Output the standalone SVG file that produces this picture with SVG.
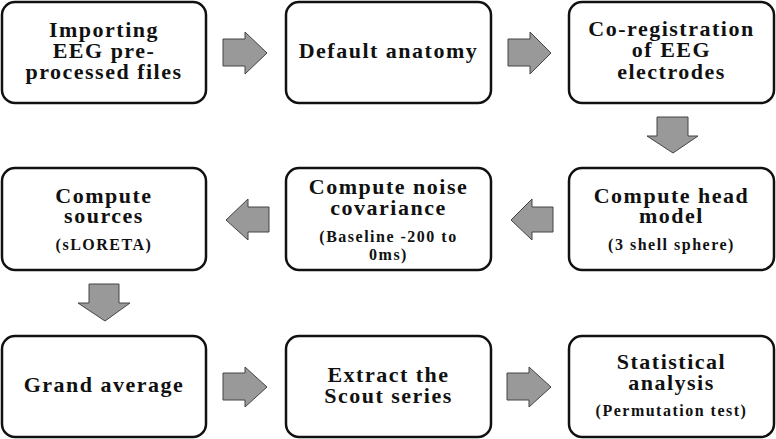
<svg xmlns="http://www.w3.org/2000/svg" width="776" height="439" viewBox="0 0 776 439">
<style>
.box{fill:#fff;stroke:#111;stroke-width:2.5}
.t{font-weight:bold;font-size:22px;letter-spacing:1.5px;fill:#111;text-anchor:middle}
.s{font-size:16px;letter-spacing:1.5px}
.arr{fill:#999;stroke:#444;stroke-width:1}
</style>
<rect width="776" height="439" fill="#fff"/>
<g id="connectors">
<polygon class="arr" points="223,39 245,39 245,32 267,53 245,74 245,66 223,66"/>
<polygon class="arr" points="508,39 530,39 530,32 551,53 530,74 530,66 508,66"/>
<polygon class="arr" points="657,117 688,117 688,136 698,136 673,153 647,136 657,136"/>
<polygon class="arr" points="553,207 532,207 532,199 511,220 532,240 532,232 553,232"/>
<polygon class="arr" points="269,207 248,207 248,199 226,220 248,240 248,232 269,232"/>
<polygon class="arr" points="89,284 119,284 119,303 130,303 105,321 78,303 89,303"/>
<polygon class="arr" points="223,373 245,373 245,367 267,387 245,407 245,400 223,400"/>
<polygon class="arr" points="507,373 529,373 529,367 551,387 529,407 529,400 507,400"/>
</g>
<g font-family="Liberation Serif, serif">
<g id="n1"><rect class="box" x="2" y="2" width="204" height="101" rx="13"/>
<text class="t" x="104" y="37">Importing</text><text class="t" x="104" y="58">EEG pre-</text><text class="t" x="104" y="79">processed files</text></g>
<g id="n2"><rect class="box" x="286" y="2" width="205" height="101" rx="13"/>
<text class="t" x="388.5" y="58">Default anatomy</text></g>
<g id="n3"><rect class="box" x="569" y="2" width="205" height="101" rx="13"/>
<text class="t" x="671.5" y="36">Co-registration</text><text class="t" x="671.5" y="57">of EEG</text><text class="t" x="671.5" y="79">electrodes</text></g>
<g id="n4"><rect class="box" x="2" y="168" width="204" height="102" rx="13"/>
<text class="t" x="104" y="203">Compute</text><text class="t" x="104" y="223">sources</text><text class="t s" x="104" y="250">(sLORETA)</text></g>
<g id="n5"><rect class="box" x="286" y="168" width="205" height="102" rx="13"/>
<text class="t" x="388.5" y="194">Compute noise</text><text class="t" x="388.5" y="215">covariance</text><text class="t s" x="388.5" y="242">(Baseline -200 to</text><text class="t s" x="388.5" y="260">0ms)</text></g>
<g id="n6"><rect class="box" x="569" y="168" width="205" height="102" rx="13"/>
<text class="t" x="671.5" y="203">Compute head</text><text class="t" x="671.5" y="223">model</text><text class="t s" x="671.5" y="250">(3 shell sphere)</text></g>
<g id="n7"><rect class="box" x="2" y="336" width="204" height="101" rx="13"/>
<text class="t" x="104" y="392">Grand average</text></g>
<g id="n8"><rect class="box" x="286" y="336" width="205" height="101" rx="13"/>
<text class="t" x="388.5" y="382">Extract the</text><text class="t" x="388.5" y="403">Scout series</text></g>
<g id="n9"><rect class="box" x="569" y="336" width="205" height="101" rx="13"/>
<text class="t" x="671.5" y="369">Statistical</text><text class="t" x="671.5" y="390">analysis</text><text class="t s" x="671.5" y="416">(Permutation test)</text></g>
</g>
</svg>
